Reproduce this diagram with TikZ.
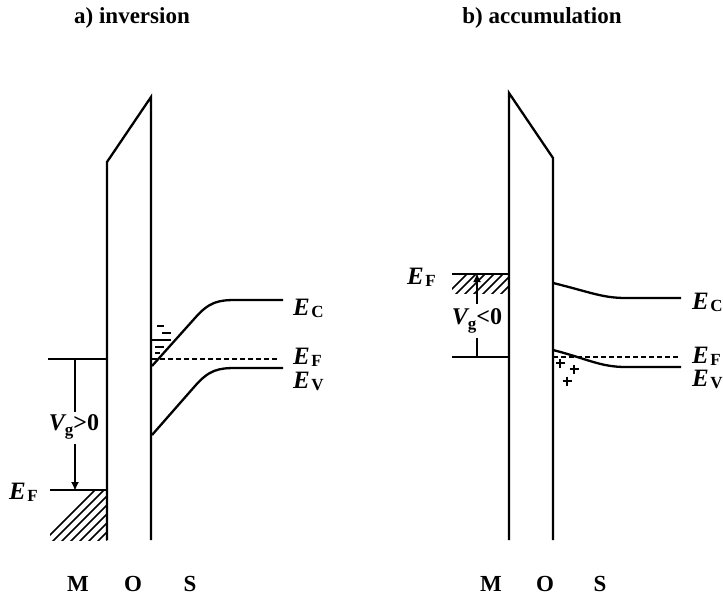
\documentclass[tikz,border=0pt]{standalone}
\usepackage{fontspec}
\setmainfont{Liberation Serif}
\usetikzlibrary{arrows.meta}
\newcommand{\lvl}[2]{{\fontsize{25}{25}\selectfont\bfseries\itshape #1}\hspace{1.5pt}\raisebox{-0.45ex}{\fontsize{17}{17}\selectfont\bfseries #2}}
\newcommand{\vlvl}[2]{{\fontsize{24}{24}\selectfont\bfseries\itshape #1}\raisebox{-0.45ex}{\fontsize{17}{17}\selectfont\bfseries #2}}
\begin{document}
\begin{tikzpicture}[x=1pt,y=-1pt,
  band/.style={line width=2.3pt, line join=miter},
  lvlline/.style={line width=2.1pt},
  dashline/.style={line width=1.9pt, dash pattern=on 5pt off 3pt},
  hatch/.style={line width=1.7pt},
  title/.style={font=\fontsize{23}{23}\selectfont\bfseries, inner sep=0pt},
  lbl/.style={inner sep=0pt, anchor=west},
  mos/.style={font=\fontsize{23}{23}\selectfont\bfseries, inner sep=0pt},
  vg/.style={inner sep=0pt, font=\fontsize{24}{24}\selectfont\bfseries},
  tip/.style={-{Latex[length=9pt,width=8pt]}}
]
\useasboundingbox (0,0) rectangle (723,600);
\fill[white] (0,0) rectangle (723,600);

% titles
\node[title] (ta) at (132,18) {a) inversion};
\node[title] (tb) at (542,18) {b) accumulation};

% ================= a) inversion =================
\draw[band] (107,540) -- (107,162) -- (151,97) -- (151,540);
% metal levels
\coordinate (am1) at (48,359);
\coordinate (am2) at (107,359);
\draw[lvlline] (am1) -- (am2);
\coordinate (af1) at (50,490);
\coordinate (af2) at (107,490);
\draw[lvlline] (af1) -- (af2);
\begin{scope}
  \clip (50,490) rectangle (107,540);
  \foreach \i in {0,...,12} {
    \draw[hatch] (40+9*\i,545) -- (40+9*\i+55,490);
  }
\end{scope}
% Vg arrow
\node[vg] (vga) at (74,427) {\vlvl{V}{g}>0};
\coordinate (va1) at (75,359);
\coordinate (va2) at (75,491);
\draw[lvlline] (va1) -- (75,412);
\draw[lvlline,tip] (75,444) -- (va2);
\node[lbl] (efa) at (9,492) {\lvl{E}{F}};
% semiconductor bands
\draw[band] (152,366) -- (195,318) .. controls (209,302) and (218,300) .. (236,300) -- (283,300);
\draw[dashline] (152,359) -- (278,359);
\draw[band] (152,435) -- (195,386) .. controls (209,370) and (218,368) .. (236,368) -- (283,368);
% inversion electrons
\draw[lvlline] (157,326) -- (164,326);
\draw[lvlline] (162,333) -- (171,333);
\draw[lvlline] (152,340) -- (171,340);
\draw[lvlline] (155,347) -- (164,347);
\draw[lvlline] (155,353) -- (160,353);
\node[lbl] (eca) at (293,308) {\lvl{E}{C}};
\node[lbl] (efsa) at (293,357) {\lvl{E}{F}};
\node[lbl] (eva) at (293,381) {\lvl{E}{V}};
% MOS
\node[mos] (ma) at (78,584) {M};
\node[mos] (oa) at (133,584) {O};
\node[mos] (sa) at (190,584) {S};

% ================= b) accumulation =================
\draw[band] (509,540) -- (509,93) -- (553,158) -- (553,540);
\coordinate (bf1) at (452,274);
\coordinate (bf2) at (509,274);
\draw[lvlline] (bf1) -- (bf2);
\begin{scope}
  \clip (452,274) rectangle (509,293);
  \foreach \i in {0,...,9} {
    \draw[hatch] (445+9*\i,296) -- (445+9*\i+24,272);
  }
\end{scope}
\coordinate (bm1) at (452,357);
\coordinate (bm2) at (509,357);
\draw[lvlline] (bm1) -- (bm2);
\node[vg] (vgb) at (477,321) {\vlvl{V}{g}<0};
\coordinate (vb1) at (477,357);
\coordinate (vb2) at (477,273);
\draw[lvlline] (vb1) -- (477,338);
\draw[lvlline,tip] (477,304) -- (vb2);
\node[lbl] (efb) at (407,277) {\lvl{E}{F}};
% semiconductor bands
\draw[band] (553,283) .. controls (590,292) and (602,298) .. (626,298) -- (681,298);
\draw[dashline] (553,357) -- (680,357);
\draw[band] (553,350) .. controls (588,359) and (600,367) .. (626,367) -- (681,367);
% holes
\foreach \x/\y in {560/363, 574/369, 567/381} {
  \draw[lvlline] (\x-4.5,\y) -- (\x+4.5,\y);
  \draw[lvlline] (\x,\y-4.5) -- (\x,\y+4.5);
}
\node[lbl] (ecb) at (692,302) {\lvl{E}{C}};
\node[lbl] (efsb) at (692,356) {\lvl{E}{F}};
\node[lbl] (evb) at (692,379) {\lvl{E}{V}};
\node[mos] (mb) at (491,584) {M};
\node[mos] (ob) at (545,584) {O};
\node[mos] (sb) at (600,584) {S};
\end{tikzpicture}
\end{document}
